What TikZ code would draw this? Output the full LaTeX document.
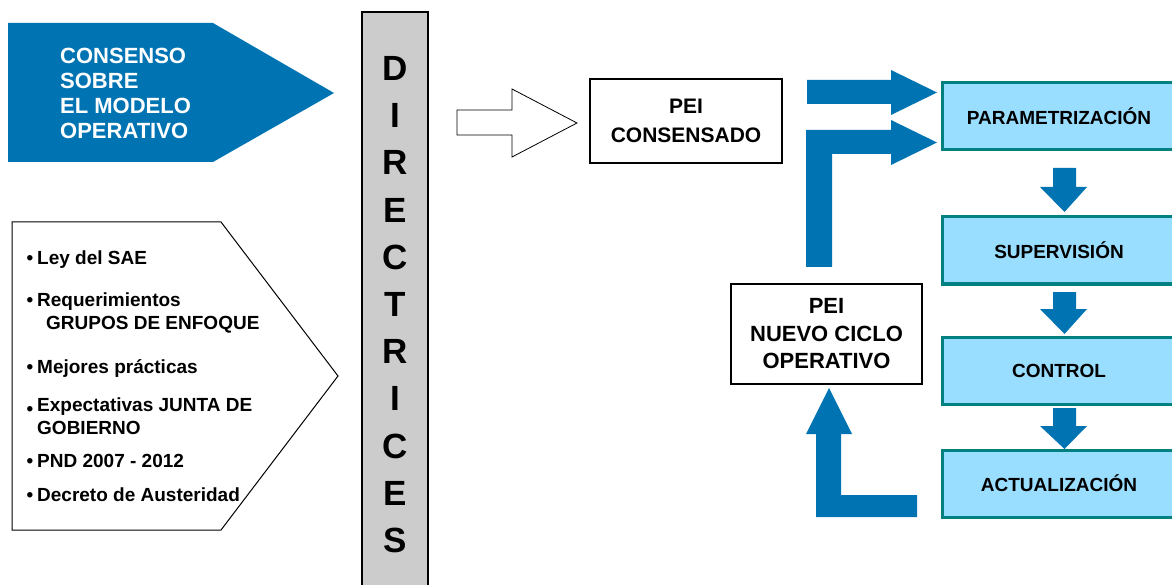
\documentclass[tikz,border=0pt]{standalone}
\usepackage{fontspec}
\setmainfont{Liberation Sans}
\definecolor{pblue}{HTML}{0074B2}
\definecolor{lblue}{HTML}{99DDFF}
\definecolor{tealb}{HTML}{008080}
\definecolor{barg}{HTML}{CCCCCC}
\begin{document}
\begin{tikzpicture}[x=1pt,y=-1pt,
  bluearrow/.style={fill=pblue,draw=none},
  lbox/.style={draw=tealb,line width=3pt,fill=lblue,minimum width=234pt,minimum height=67pt,inner sep=0pt,font=\bfseries\fontsize{19}{22}\selectfont},
  wbox/.style={draw=black,fill=white,inner sep=0pt,align=center},
  bul/.style={anchor=base west,inner sep=0pt,font=\bfseries\fontsize{19}{23}\selectfont},
  letter/.style={inner sep=0pt,text height=25pt,text depth=0pt,font=\bfseries\fontsize{35}{40}\selectfont}]
\useasboundingbox (0,0) rectangle (1172,585);

% blue pentagon
\fill[pblue] (8,23) -- (213,23) -- (334,93) -- (213,162) -- (8,162) -- cycle;
\node[anchor=west,align=left,inner sep=0pt,text=white,font=\bfseries\fontsize{22}{25}\selectfont] (cons) at (60,93.5)
  {CONSENSO\\SOBRE\\EL MODELO\\OPERATIVO};

% bullet pentagon
\draw[line width=1pt] (12,222) -- (221,222) -- (338,376) -- (221,530) -- (12,530) -- cycle;
\node[bul] (b1) at (37,264.8) {\llap{•\hspace{4pt}}Ley del SAE};
\node[bul] (b2) at (37,306.8) {\llap{•\hspace{4pt}}Requerimientos};
\node[bul] (b2b) at (46,329.8) {GRUPOS DE ENFOQUE};
\node[bul] (b3) at (37,373.8) {\llap{•\hspace{4pt}}Mejores prácticas};
\node[bul] (b4) at (37,411.8) {\llap{\raisebox{-4pt}{•}\hspace{4pt}}Expectativas JUNTA DE};
\node[bul] (b4b) at (37,434.8) {GOBIERNO};
\node[bul] (b5) at (37,467.8) {\llap{•\hspace{4pt}}PND 2007 - 2012};
\node[bul] (b6) at (37,501.8) {\llap{•\hspace{4pt}}Decreto de Austeridad};

% DIRECTRICES bar
\draw[fill=barg,line width=2pt] (362,12) rectangle (428,600);
\foreach \l [count=\i] in {D,I,R,E,C,T,R,I,C,E,S}
  \node[letter] (d\i) at (395,{68+47.2*(\i-1)}) {\l};

% hollow arrow
\draw[fill=white,line width=0.8pt] (457,110) -- (512,110) -- (512,89) -- (577,123) -- (512,157) -- (512,135) -- (457,135) -- cycle;

% PEI CONSENSADO
\node[wbox,line width=1.5pt,minimum width=192pt,minimum height=84pt,font=\bfseries\fontsize{21}{29}\selectfont] (peic) at (686,121) {PEI\\CONSENSADO};

% PEI NUEVO CICLO
\node[wbox,line width=2pt,minimum width=191pt,minimum height=100pt,font=\bfseries\fontsize{22}{27.5}\selectfont] (pein) at (826.5,334) {PEI\\NUEVO CICLO\\OPERATIVO};

% light blue boxes
\node[lbox] (par) at (1059,116.5) {PARAMETRIZACIÓN};
\node[lbox] (sup) at (1059,250.5) {SUPERVISIÓN};
\node[lbox] (con) at (1059,370.5) {CONTROL};
\node[lbox] (act) at (1059,483.5) {ACTUALIZACIÓN};

% blue arrows
\fill[bluearrow] (807,80) -- (891,80) -- (891,70) -- (937,92.5) -- (891,115) -- (891,104) -- (807,104) -- cycle;
\fill[bluearrow] (806,267) -- (806,130) -- (891,130) -- (891,120) -- (937,142.5) -- (891,165) -- (891,154) -- (832,154) -- (832,267) -- cycle;
\foreach \t/\b/\p in {168/187/212, 292/309/334, 408/426/449}
  \fill[bluearrow] (1053,\t) -- (1076,\t) -- (1076,\b) -- (1087,\b) -- (1064.5,\p) -- (1040,\b) -- (1053,\b) -- cycle;
\fill[bluearrow] (829,388) -- (852,434) -- (841,434) -- (841,495) -- (917,495) -- (917,517) -- (816,517) -- (816,434) -- (806,434) -- cycle;
\end{tikzpicture}
\end{document}
